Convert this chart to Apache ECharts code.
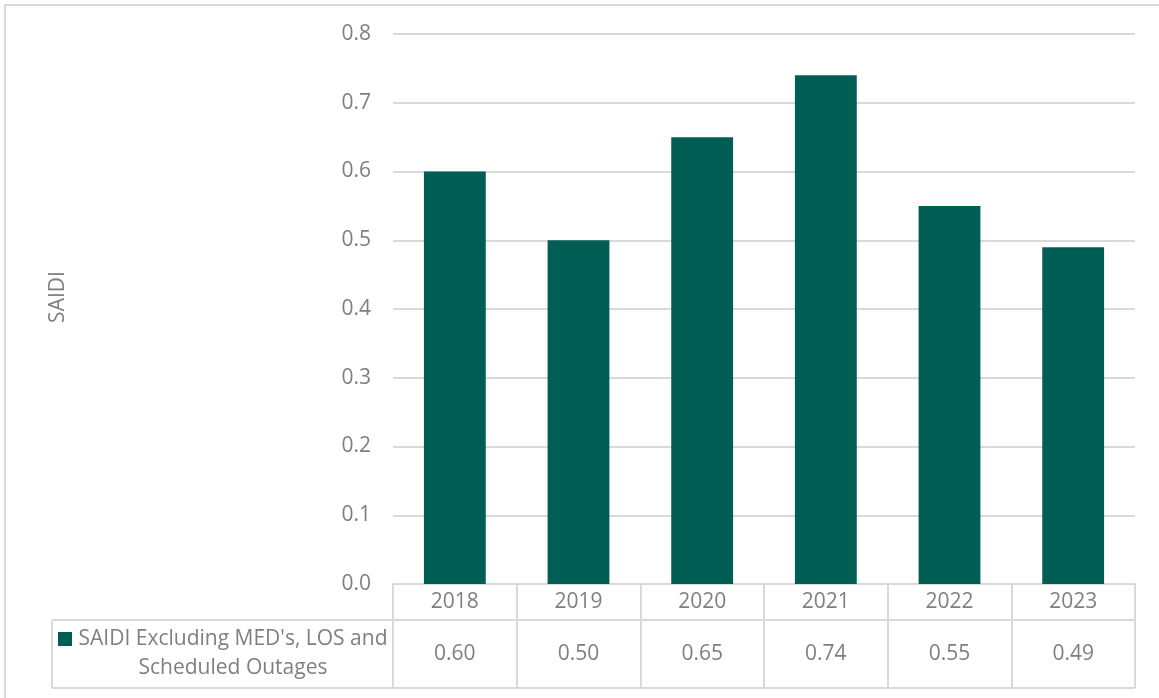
<!DOCTYPE html>
<html>
<head>
<meta charset="utf-8">
<script src="https://cdn.jsdelivr.net/npm/echarts@6/dist/echarts.min.js"></script>
<style>
  html, body { margin: 0; padding: 0; background: #ffffff; }
  #chart { width: 1159px; height: 698px; }
</style>
</head>
<body>
<div id="chart"></div>
<script>
// SAIDI per year (excluding major event days, loss of supply and scheduled outages)
const years = ['2018', '2019', '2020', '2021', '2022', '2023'];
const saidi = [0.60, 0.50, 0.65, 0.74, 0.55, 0.49];
const seriesName = "SAIDI Excluding MED's, LOS and\nScheduled Outages";
const axisTitle = 'SAIDI';

const FONT = '"Open Sans", "Liberation Sans", sans-serif';
const FS = 21;
const TEXT = '#7f7f7f';
const LINE = '#d9d9d9';
const BAR = '#005e54';

const grid = { left: 393, right: 24, top: 34, bottom: 114 };
const headerH = 36;   // year row of the data table
const valueH = 68;    // value row of the data table
const labelCellLeft = 52;

const chart = echarts.init(document.getElementById('chart'), null, { renderer: 'canvas' });

const W = 1159;
const axisY = 698 - grid.bottom;
const gridRight = W - grid.right;

chart.setOption({
  backgroundColor: '#ffffff',
  animation: false,
  textStyle: { fontFamily: FONT },
  grid: grid,
  xAxis: [
    {
      type: 'category',
      data: years,
      position: 'bottom',
      axisLine: { show: true, lineStyle: { color: LINE, width: 2 } },
      axisTick: { show: true, interval: 0, length: headerH + valueH, lineStyle: { color: LINE, width: 2 } },
      axisLabel: { color: TEXT, fontSize: FS, fontFamily: FONT, margin: 8, interval: 0 }
    },
    {
      type: 'category',
      data: years,
      position: 'bottom',
      offset: headerH,
      axisLine: { show: true, lineStyle: { color: LINE, width: 2 } },
      axisTick: { show: false },
      axisLabel: {
        color: TEXT, fontSize: FS, fontFamily: FONT, margin: 24, interval: 0,
        formatter: (v, i) => saidi[i].toFixed(2)
      }
    }
  ],
  yAxis: {
    type: 'value',
    min: 0,
    max: 0.8,
    interval: 0.1,
    axisLine: { show: false },
    axisTick: { show: false },
    splitLine: { lineStyle: { color: LINE, width: 2 } },
    axisLabel: {
      color: TEXT, fontSize: FS, fontFamily: FONT, margin: 22,
      formatter: v => v.toFixed(1)
    }
  },
  series: [{
    name: seriesName,
    type: 'bar',
    xAxisIndex: 0,
    data: saidi,
    barWidth: '50%',
    itemStyle: { color: BAR }
  }],
  graphic: [
    // outer chart frame
    { type: 'rect', shape: { x: 5, y: 5, width: W + 10, height: 720 }, style: { fill: null, stroke: LINE, lineWidth: 2 }, silent: true },
    // data table: legend cell and bottom edge
    { type: 'line', shape: { x1: labelCellLeft, y1: axisY + headerH, x2: grid.left, y2: axisY + headerH }, style: { stroke: LINE, lineWidth: 2 } },
    { type: 'line', shape: { x1: labelCellLeft, y1: axisY + headerH, x2: labelCellLeft, y2: axisY + headerH + valueH }, style: { stroke: LINE, lineWidth: 2 } },
    { type: 'line', shape: { x1: labelCellLeft, y1: axisY + headerH + valueH, x2: gridRight, y2: axisY + headerH + valueH }, style: { stroke: LINE, lineWidth: 2 } },
    // legend key
    { type: 'rect', shape: { x: 58, y: 632, width: 14, height: 14 }, style: { fill: BAR } },
    {
      type: 'text', x: 233, y: 654,
      style: {
        text: seriesName, fill: TEXT, font: FS + 'px ' + FONT,
        align: 'center', verticalAlign: 'middle', lineHeight: 29
      }
    },
    // value axis title
    {
      type: 'text', x: 58, y: 297, rotation: Math.PI / 2,
      style: { text: axisTitle, fill: TEXT, font: FS + 'px ' + FONT, align: 'center', verticalAlign: 'middle' }
    }
  ]
});
</script>
</body>
</html>
